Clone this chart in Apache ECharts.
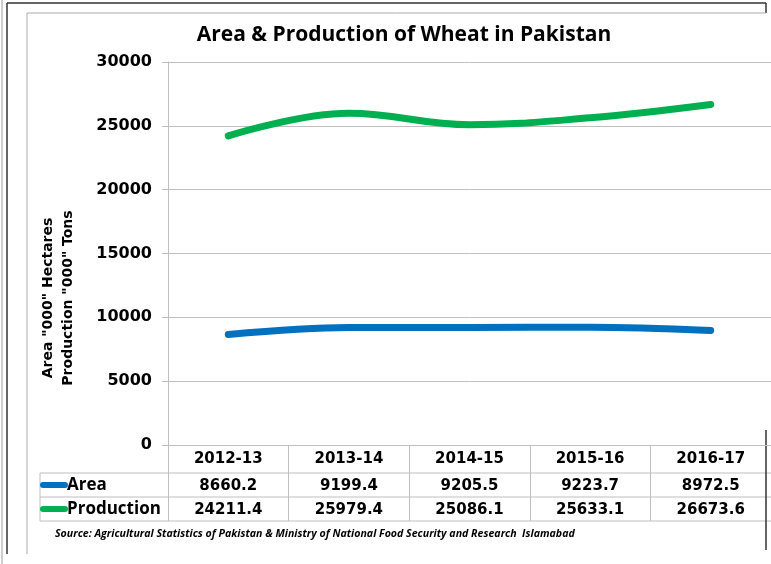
<!DOCTYPE html>
<html>
<head>
<meta charset="utf-8">
<script src="https://cdn.jsdelivr.net/npm/echarts@6/dist/echarts.min.js"></script>
<style>
  html, body { margin: 0; padding: 0; background: #fff; }
  #main { width: 771px; height: 564px; }
</style>
</head>
<body>
<div id="main"></div>
<script>
// data
const categories = ['2012-13', '2013-14', '2014-15', '2015-16', '2016-17']
const areaValues = [8660.2, 9199.4, 9205.5, 9223.7, 8972.5]
const productionValues = [24211.4, 25979.4, 25086.1, 25633.1, 26673.6]
const seriesNames = ['Area', 'Production']
const seriesColors = ['#0070C0', '#00B050']

const gridCol = '#BFBFBF'
const tableFont = 'DejaVu Sans'
const textFont = 'Open Sans'

const chart = echarts.init(document.getElementById('main'))

chart.setOption({
    animation: false,
    grid: { left: 168, top: 62, width: 615, height: 383 },
    xAxis: {
        type: 'category',
        data: categories,
        boundaryGap: true,
        axisLine: { lineStyle: { color: gridCol } },
        // ticks pointing down make the table column lines
        axisTick: { show: true, length: 76, lineStyle: { color: gridCol } },
        axisLabel: {
            margin: 7, color: '#000', fontFamily: tableFont,
            fontWeight: 'bold', fontSize: 15
        }
    },
    yAxis: {
        type: 'value',
        min: 0, max: 30000, interval: 5000,
        axisLine: { show: true, lineStyle: { color: gridCol } },
        axisTick: { show: true, length: 6, lineStyle: { color: gridCol } },
        axisLabel: {
            margin: 16, color: '#000', fontFamily: 'DejaVu Sans',
            fontWeight: 'bold', fontSize: 16,
            formatter: v => String(v)
        },
        splitLine: { lineStyle: { color: gridCol } }
    },
    series: [
        {
            name: seriesNames[0], type: 'line', data: areaValues,
            smooth: 0.35, symbol: 'none',
            lineStyle: { width: 7, color: seriesColors[0], cap: 'round' }
        },
        {
            name: seriesNames[1], type: 'line', data: productionValues,
            smooth: 0.4, symbol: 'none',
            lineStyle: { width: 7, color: seriesColors[1], cap: 'round' }
        }
    ]
})

// table + frame, positioned from the chart's own axes
const yBase = chart.convertToPixel({ yAxisIndex: 0 }, 0)
const xRight = 783, labelLeft = 40
const rowH = 24
const row1 = yBase + 28, row2 = row1 + rowH, row3 = row2 + rowH

const g = []
const hline = (x1, x2, y, color, w) => g.push({
    type: 'line', shape: { x1, y1: y, x2, y2: y },
    style: { stroke: color, lineWidth: w || 1 }
})
const vline = (x, y1, y2, color, w) => g.push({
    type: 'line', shape: { x1: x, y1, x2: x, y2 },
    style: { stroke: color, lineWidth: w || 1 }
})
const txt = (x, y, text, size, family, extra) => g.push(Object.assign({
    type: 'text', x, y,
    style: Object.assign({
        text, fill: '#000', fontSize: size, fontFamily: family, fontWeight: 'bold',
        align: 'center', verticalAlign: 'middle'
    }, extra || {})
}))

hline(labelLeft, xRight, row1, gridCol)
hline(labelLeft, xRight, row2, gridCol)
hline(labelLeft, xRight, row3, gridCol)
vline(labelLeft, row1, row3, gridCol)

const rows = [areaValues, productionValues]
rows.forEach((vals, r) => {
    const yc = row1 + rowH * r + rowH / 2
    g.push({
        type: 'line', shape: { x1: labelLeft + 3, y1: yc, x2: labelLeft + 25, y2: yc },
        style: { stroke: seriesColors[r], lineWidth: 6, lineCap: 'round' }
    })
    txt(labelLeft + 27, yc, seriesNames[r], 17, textFont, { align: 'left' })
    vals.forEach((v, i) => {
        txt(chart.convertToPixel({ xAxisIndex: 0 }, i), yc + 1, v.toFixed(1), 15, tableFont)
    })
})

// title
txt(404, 35, 'Area & Production of Wheat in Pakistan', 21, textFont)
// axis name, two lines turned on their side
g.push({
    type: 'text', x: 58, y: 298, rotation: Math.PI / 2,
    style: {
        text: 'Area "000" Hectares\nProduction "000" Tons', fill: '#000',
        fontSize: 14, fontFamily: 'DejaVu Sans', fontWeight: 'bold',
        align: 'center', verticalAlign: 'middle', lineHeight: 20
    }
})
// source note
g.push({
    type: 'text', x: 55, y: 534,
    style: {
        text: 'Source: Agricultural Statistics of Pakistan & Ministry of National Food Security and Research  Islamabad',
        fill: '#000', fontSize: 10.6, fontFamily: textFont, fontWeight: 'bold', fontStyle: 'italic',
        align: 'left', verticalAlign: 'middle'
    }
})

// outer frame
vline(2, 0, 564, '#9a9a9a')
vline(7, 3, 554, '#333', 1.5)
hline(7, 766, 3, '#333', 1.5)
vline(766, 3, 13, '#333', 1.5)
hline(27, 766, 13, '#aaa')
vline(27, 13, 554, '#aaa')
vline(766, 430, 550, '#333', 1.5)

chart.setOption({ graphic: g })
</script>
</body>
</html>
